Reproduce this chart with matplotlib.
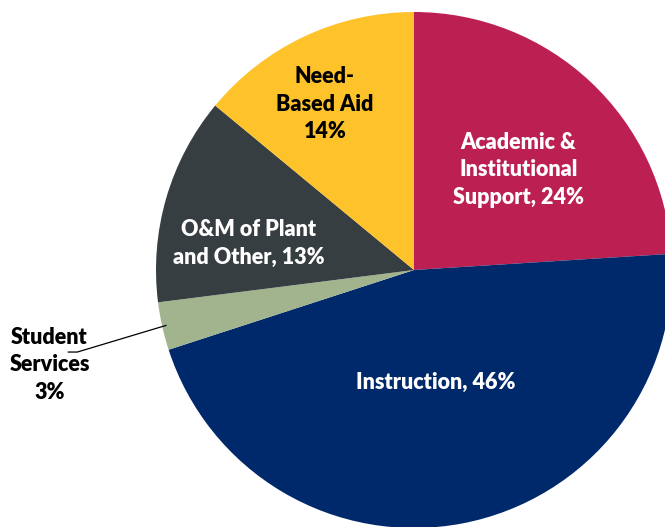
import numpy as np
import matplotlib.pyplot as plt

labels = ['Academic &\nInstitutional\nSupport, 24%', 'Instruction, 46%',
          'Student\nServices\n3%', 'O&M of Plant\nand Other, 13%', 'Need-\nBased Aid\n14%']
shares = [24, 46, 3, 13, 14]
colors = ['#BC2052', '#00296B', '#A2B48E', '#373E41', '#FEC22A']
text_colors = ['white', 'white', 'black', 'white', 'black']
# label placement: (radius, angle offset from wedge middle in degrees)
label_pos = [(0.56, -3), (0.445, 0), (1.46, 2.0), (0.65, 7), (0.73, 3)]

plt.rcParams['font.family'] = ['Lato', 'DejaVu Sans']

fig = plt.figure(figsize=(6.65, 5.27), dpi=100)
ax = fig.add_axes([156 / 665, -1 / 527, 516 / 665, 516 / 527])
wedges, _ = ax.pie(shares, colors=colors, startangle=90, counterclock=False,
                   radius=1.0, wedgeprops=dict(linewidth=0))
ax.set_xlim(-1, 1)
ax.set_ylim(-1, 1)
ax.set_aspect('equal')
ax.axis('off')

for w, lab, tc, (r, off) in zip(wedges, labels, text_colors, label_pos):
    mid = np.deg2rad((w.theta1 + w.theta2) / 2 + off)
    x, y = r * np.cos(mid), r * np.sin(mid)
    ax.text(x, y, lab, ha='center', va='center', color=tc, fontsize=15.5,
            fontweight='heavy', linespacing=1.4, clip_on=False)

# leader line for the small slice
ss = wedges[2]
mid = np.deg2rad((ss.theta1 + ss.theta2) / 2)
ex, ey = 0.985 * np.cos(mid), 0.985 * np.sin(mid)
ax.plot([-1.34, -1.305, ex], [-0.318, -0.318, ey], color='black', lw=0.9,
        clip_on=False)

fig.savefig('out.png', dpi=100)
